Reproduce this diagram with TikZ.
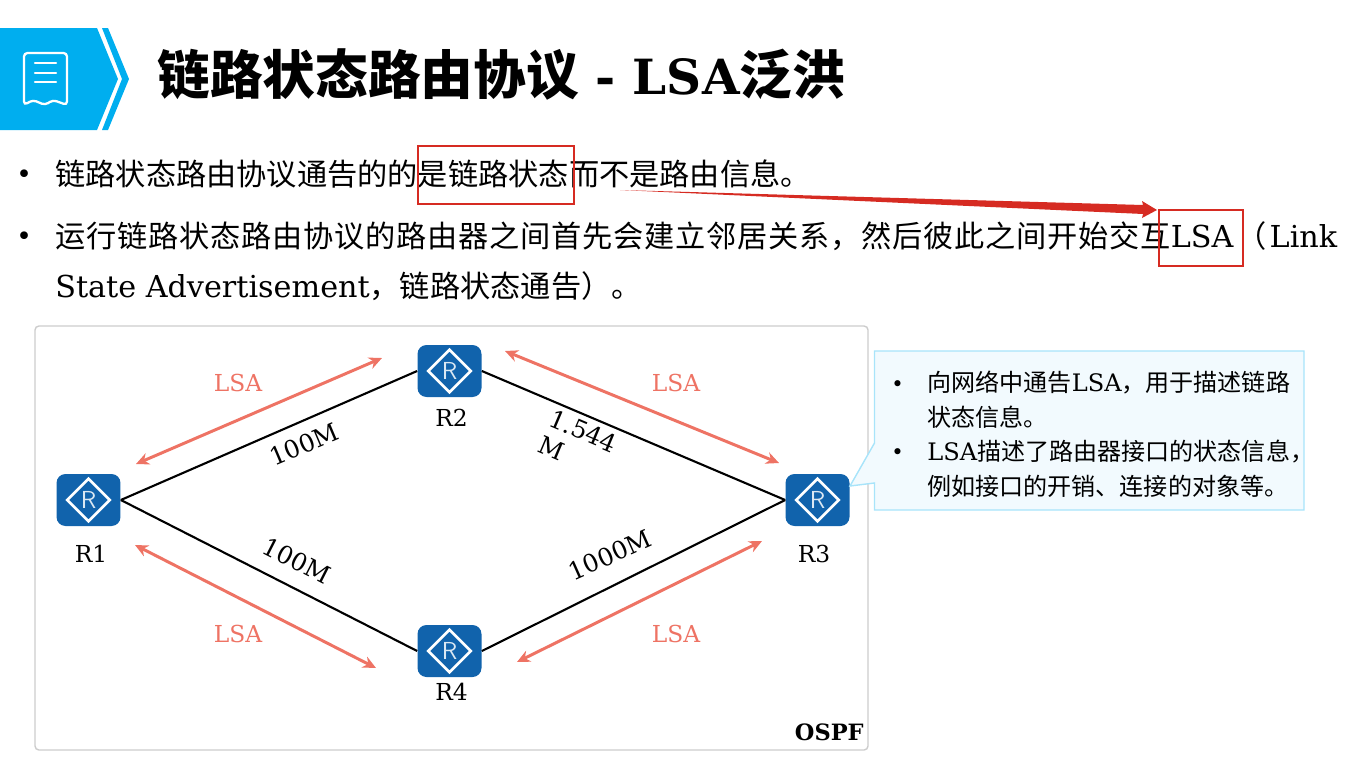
\documentclass[tikz,border=0pt]{standalone}
\usepackage{fontspec}
\setmainfont{DejaVu Serif}
\newfontfamily\cjk{Noto Sans CJK SC}
\newfontfamily\cjkwide[LetterSpace=2.6]{Noto Sans CJK SC}
\usetikzlibrary{positioning, arrows.meta, shapes.geometric}
\newcommand{\zh}[1]{{\cjk #1}}
\newcommand{\zhw}[1]{{\cjkwide #1}}
\definecolor{headblue}{HTML}{00AEEF}
\definecolor{routerblue}{HTML}{1163AC}
\definecolor{lsared}{HTML}{EE7364}
\definecolor{boxred}{HTML}{D62B22}
\definecolor{noteline}{HTML}{A8E4FA}
\definecolor{notefill}{HTML}{F2FAFE}

\begin{document}
\begin{tikzpicture}[
  x=0.02cm, y=-0.02cm,
  router/.style={fill=routerblue, rounded corners=0.18cm, minimum width=1.28cm, minimum height=1.04cm, inner sep=0pt},
  routermark/.style={diamond, draw=white, line width=1.5pt, minimum size=0.87cm, inner sep=0pt,
                     text=white!85!routerblue, font=\sffamily\fontsize{14}{14}\selectfont},
  link/.style={black, line width=1.2pt},
  lsa/.style={{Stealth[length=2.6mm,width=2.4mm]}-{Stealth[length=2.6mm,width=2.4mm]}, lsared, line width=1.7pt},
  lsatext/.style={text=lsared, font=\fontsize{13.3}{15}\selectfont},
  speed/.style={font=\fontsize{14}{16}\selectfont, align=left, inner sep=0pt},
  routername/.style={font=\fontsize{13.3}{15}\selectfont, inner sep=0pt},
  body/.style={anchor=base west, inner sep=0pt, font=\fontsize{17.2}{20}\selectfont},
  notetext/.style={anchor=base west, inner sep=0pt, font=\fontsize{13.7}{16}\selectfont},
  redbox/.style={draw=boxred, line width=1.4pt, inner sep=0pt},
  icon/.style={draw=white, line width=1.3pt, line cap=round},
]
  \useasboundingbox (0,0) rectangle (1355,764);

  % header
  \fill[headblue] (0,28) -- (97,28) -- (118,79) -- (97,130) -- (0,130) -- cycle;
  \fill[headblue] (102,28) -- (108,28) -- (129,79) -- (108,130) -- (102,130) -- (122,79) -- cycle;
  \draw[icon, rounded corners=2pt] (24,105) -- (24,53) -- (67,53) -- (67,105) -- (53,100) -- (45,105) -- (33,100) -- cycle;
  \foreach \y in {63,73,82} \draw[icon] (35,\y) -- (56,\y);
  \node[anchor=base west, inner sep=0pt, font=\bfseries\fontsize{27.6}{32}\selectfont] (title) at (157,94)
    {{\fontsize{30}{32}\selectfont\zh{链路状态路由协议}} - LSA{\fontsize{30}{32}\selectfont\zh{泛洪}}};

  % text
  \node[body, font=\fontsize{15}{20}\selectfont] (dot1) at (16,183) {•};
  \node[body] (line1) at (55,185) {\zh{链路状态路由协议通告的的是链路状态而不是路由信息。}};
  \node[body, font=\fontsize{15}{20}\selectfont] (dot2) at (16,245) {•};
  \node[body] (line2) at (55,247) {\zhw{运行链路状态路由协议的路由器之间首先会建立邻居关系，然后彼此之间开始交互}LSA\kern2pt\zh{（}\kern1.5pt Link};
  \node[body] (line3) at (55,297) {State Advertisement\zh{，链路状态通告）。}};

  % red marks
  \node[redbox, minimum width=3.12cm, minimum height=1.16cm] (mark1) at (496,175) {};
  \node[redbox, minimum width=1.68cm, minimum height=1.12cm] (mark2) at (1201,238) {};
  \fill[boxred] (620,190) -- (1143,205) -- (1142,201) -- (1157,210) -- (1142,218) -- (1143,214) -- cycle;

  % frame
  \draw[gray!40, line width=0.8pt, rounded corners=0.08cm] (35,326) rectangle (868,750);
  \node[anchor=south east, inner sep=0pt, font=\bfseries\fontsize{12.8}{15}\selectfont] (ospf) at (864,741) {OSPF};

  % routers
  \foreach \rname/\x/\y in {R1/88.5/500, R2/449.5/371, R3/817.5/500, R4/449.5/651} {
    \node[router] (\rname) at (\x,\y) {};
    \node[routermark] (\rname m) at (\rname) {R};
  }
  \node[routername] (R1t) at (91,554) {R1};
  \node[routername] (R2t) at (451.5,418) {R2};
  \node[routername] (R3t) at (814,554) {R3};
  \node[routername] (R4t) at (451.5,692) {R4};

  \draw[link] (R1.east) -- (R2.west);
  \draw[link] (R2.east) -- (R3.west);
  \draw[link] (R1.east) -- (R4.west);
  \draw[link] (R4.east) -- (R3.west);

  \node[speed, rotate=23] (s12) at (304,444) {100M};
  \node[speed, rotate=-23] (s23) at (578,444) {1.544\\M};
  \node[speed, rotate=-27] (s14) at (297,561) {100M};
  \node[speed, rotate=24] (s43) at (610,555) {1000M};

  % LSA arrows
  \coordinate (a1) at (382,358);
  \coordinate (a2) at (136,464);
  \coordinate (b1) at (505,351);
  \coordinate (b2) at (779,463);
  \coordinate (c1) at (135,545);
  \coordinate (c2) at (376,668);
  \coordinate (d1) at (762,541);
  \coordinate (d2) at (517,662);
  \draw[lsa] (a1) -- (a2);
  \draw[lsa] (b1) -- (b2);
  \draw[lsa] (c1) -- (c2);
  \draw[lsa] (d1) -- (d2);
  \node[lsatext] (l1) at (238,383) {LSA};
  \node[lsatext] (l2) at (676,383) {LSA};
  \node[lsatext] (l3) at (238,634) {LSA};
  \node[lsatext] (l4) at (676,634) {LSA};

  % note
  \draw[noteline, fill=notefill, line width=0.8pt] (874.5,351) -- (1304,351) -- (1304,510) -- (874.5,510) -- (874.5,483) -- (850,486) -- (874.5,443) -- cycle;
  \node[notetext, font=\fontsize{12}{16}\selectfont] (nd1) at (891,391) {•};
  \node[notetext] (n1) at (927,391) {\zh{向网络中通告}LSA\zh{，用于描述链路}};
  \node[notetext] (n2) at (927,426) {\zh{状态信息。}};
  \node[notetext, font=\fontsize{12}{16}\selectfont] (nd2) at (891,459) {•};
  \node[notetext] (n3) at (927,460) {LSA\zh{描述了路由器接口的状态信息，}};
  \node[notetext] (n4) at (927,495) {\zh{例如接口的开销、连接的对象等。}};
\end{tikzpicture}
\end{document}
